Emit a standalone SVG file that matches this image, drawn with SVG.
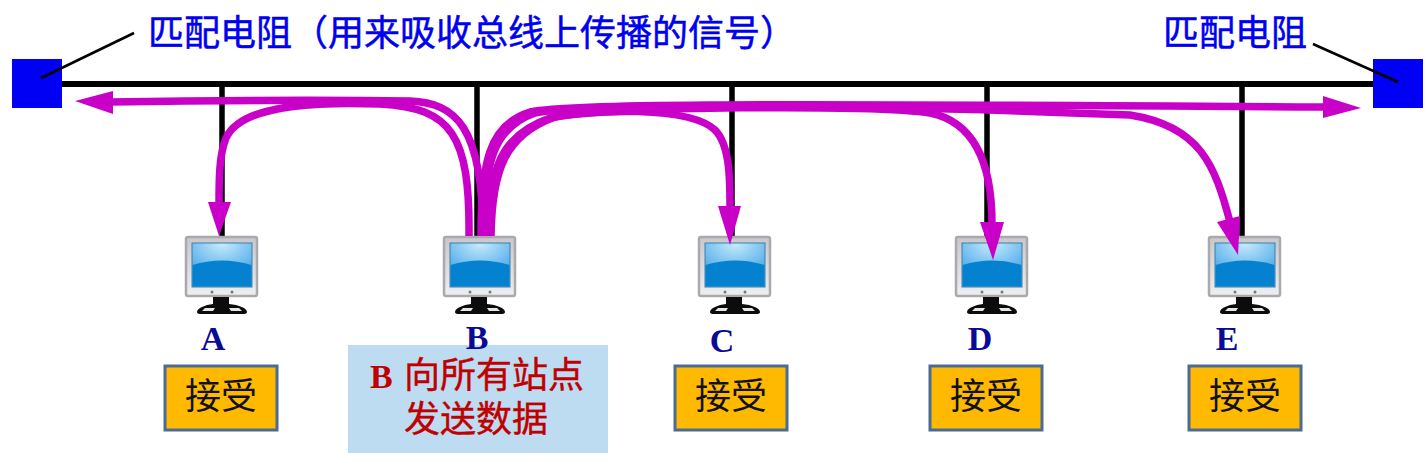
<svg xmlns="http://www.w3.org/2000/svg" width="1426" height="467" viewBox="0 0 1426 467">
<style>
.bus{stroke:#000;stroke-width:6;fill:none}
.drop{stroke:#000;stroke-width:5.500;fill:none}
.lead{stroke:#000;stroke-width:2.500;fill:none}
.sig{stroke:#c800c8;stroke-width:7.500;fill:none}
.head{fill:#c800c8}
.term{fill:#0000f5}
.lbl{font-family:"Noto Sans CJK SC","Liberation Sans",sans-serif;font-size:36px;fill:#0000f0;stroke:#0000f0;stroke-width:.5}
.st{font-family:"Liberation Serif",serif;font-size:34px;font-weight:bold;fill:#0a0a96;text-anchor:middle}
.box{fill:#ffb900;stroke:#4a6c94;stroke-width:3}
.rx{font-family:"Noto Sans CJK SC",sans-serif;font-size:36px;fill:#111;text-anchor:middle}
.note{font-family:"Noto Sans CJK SC",sans-serif;font-size:36px;fill:#c00000;stroke:#c00000;stroke-width:.4}
.noteb{font-family:"Liberation Serif",serif;font-size:34px;font-weight:bold;fill:#c00000}
</style>
<defs>
<radialGradient id="scr" cx="0.500" cy="0" r="0.700"><stop offset="0" stop-color="#c8ecfc"/><stop offset="1" stop-color="#55aeea"/></radialGradient>
<linearGradient id="frm" x1="0" y1="0" x2="0" y2="1"><stop offset="0" stop-color="#c8c8cc"/><stop offset="1" stop-color="#efeff0"/></linearGradient>
<g id="pc">
<rect x="1" y="1" width="71" height="59" rx="2" fill="url(#frm)" stroke="#a9a9ae" stroke-width="2.500"/>
<rect x="7" y="7" width="60" height="44" fill="url(#scr)" stroke="#3e7ea8" stroke-width="1"/>
<path d="M7.500 29Q37 20 66.500 29V50.500H7.500Z" fill="#0482d0"/>
<circle cx="27" cy="56" r="1.500" fill="#777"/><circle cx="47" cy="56" r="1.500" fill="#777"/>
<path d="M28 61H44V68C54 69 62 72 62 76Q62 78 58 78H16Q12 78 12 76C12 72 20 69 28 68Z" fill="#0c0c0c"/>
<path d="M20 72H30L28 75H17ZM44 72H54L57 75H46Z" fill="#e6e6e6"/>
</g>
</defs>
<g id="connectors">
<path class="bus" d="M60 84H1375"/>
<path class="drop" d="M222 84V236M477 84V236M732 84V236M987 84V236M1242 84V236"/>
</g>
<g id="terminator-left"><rect class="term" x="12" y="59" width="50" height="49"/></g>
<g id="terminator-right"><rect class="term" x="1373" y="59" width="50" height="49"/></g>
<g id="leads">
<path class="lead" d="M41 78L134 33"/>
<path class="lead" d="M1313 44L1398 82"/>
</g>
<g id="label-left"><text class="lbl" x="148" y="46">匹配电阻（用来吸收总线上传播的信号）</text></g>
<g id="label-right"><text class="lbl" x="1163" y="46">匹配电阻</text></g>
<g id="pc-a"><use href="#pc" x="185" y="236"/><text class="st" x="213" y="350">A</text></g>
<g id="pc-b"><use href="#pc" x="443" y="236"/></g>
<g id="pc-c"><use href="#pc" x="698" y="236"/><text class="st" x="722" y="352">C</text></g>
<g id="pc-d"><use href="#pc" x="955" y="236"/><text class="st" x="980" y="350">D</text></g>
<g id="pc-e"><use href="#pc" x="1208" y="236"/><text class="st" x="1227" y="350">E</text></g>
<g id="signals">
<path class="sig" d="M110 102C240 100 340 100 410 101C455 103 483 125 483 236"/>
<path class="sig" d="M469 236C470 135 452 108 380 104C300 101 240 108 226 138C219 155 219 180 219 205"/>
<path class="sig" d="M481 236C481 165 488 125 530 112C570 104 700 103 1326 107"/>
<path class="sig" d="M484 236C484 165 492 128 535 113C580 104 800 102 1130 115C1200 126 1215 165 1230 222"/>
<path class="sig" d="M488 236C489 170 500 135 550 118C590 109 690 106 715 130C730 145 730 180 730 208"/>
<path class="sig" d="M491 236C492 170 505 135 555 117C600 107 880 104 930 113C975 122 992 165 992 224"/>
<polygon class="head" points="75,101 113,91 113,114"/>
<polygon class="head" points="219,236 208,202 231,202"/>
<polygon class="head" points="730,245 718,206 741,206"/>
<polygon class="head" points="993,260 980,222 1004,222"/>
<polygon class="head" points="1238,255 1217,222 1240,216"/>
<polygon class="head" points="1361,108 1323,96 1323,118"/>
</g>
<g id="rx-a"><rect class="box" x="165" y="366" width="112" height="64"/><text class="rx" x="221" y="409">接受</text></g>
<g id="note-b"><rect x="348" y="345" width="260" height="108" fill="#bddcf2"/><text class="noteb" x="370" y="388">B</text><text class="note" x="404" y="388">向所有站点</text><text class="note" x="404" y="432">发送数据</text></g>
<g id="label-b"><text class="st" x="477" y="349">B</text></g>
<g id="rx-c"><rect class="box" x="675" y="366" width="112" height="64"/><text class="rx" x="731" y="409">接受</text></g>
<g id="rx-d"><rect class="box" x="930" y="366" width="112" height="64"/><text class="rx" x="986" y="409">接受</text></g>
<g id="rx-e"><rect class="box" x="1189" y="366" width="112" height="64"/><text class="rx" x="1245" y="409">接受</text></g>
</svg>
